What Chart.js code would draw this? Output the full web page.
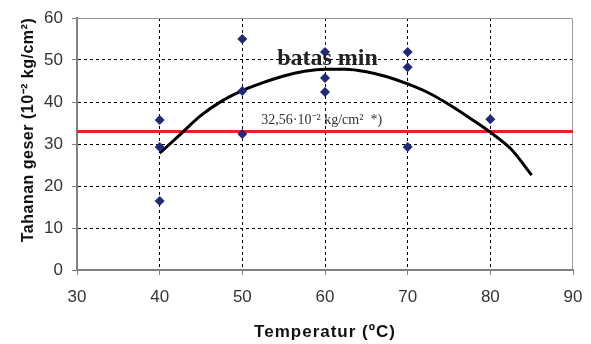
<!DOCTYPE html>
<html>
  <head>
    <meta charset="utf-8" />
    <title>Tahanan geser vs Temperatur</title>
    <style>
      html, body { margin: 0; padding: 0; background: #fff; }
      canvas { display: block; }
    </style>
  </head>
  <body>
    <canvas id="myChart" width="591" height="344"></canvas>

    <script src="https://cdn.jsdelivr.net/npm/chart.js@4/dist/chart.umd.min.js"></script>
    <script>
      // measured points
      var temps = [40, 40, 40, 50, 50, 50, 60, 60, 60, 70, 70, 70, 80];
      var shear = [35.7, 29.3, 16.4, 55.0, 42.6, 32.4, 51.9, 45.7, 42.4, 51.9, 48.3, 29.3, 35.9];

      // trend curve
      var curveX = [40, 42.5, 45, 47.5, 50, 52.5, 55, 57.5, 60, 62.5, 65, 67.5, 70, 72.5, 75, 77.5, 80, 82.5, 85];
      var curveY = [27.8, 32.3, 36.8, 40.2, 42.7, 44.6, 46.2, 47.3, 47.8, 47.8, 47.2, 46.0, 44.3, 42.2, 39.4, 36.2, 32.8, 28.8, 22.6];

      // minimum limit line
      var limitValue = 33;
      var limitX = [30, 90];

      var xTicks = [30, 40, 50, 60, 70, 80, 90];
      var yTicks = [0, 10, 20, 30, 40, 50, 60];

      var xTitle = "Temperatur (ºC)";
      var yTitle = "Tahanan geser (10⁻² kg/cm²)";

      var scatterData = [];
      for (let i = 0; i < temps.length; i++) {
        scatterData.push({ x: temps[i], y: shear[i] });
      }
      var curveData = [];
      for (let i = 0; i < curveX.length; i++) {
        curveData.push({ x: curveX[i], y: curveY[i] });
      }
      var limitData = [];
      for (let i = 0; i < limitX.length; i++) {
        limitData.push({ x: limitX[i], y: limitValue });
      }

      // frame, labels inside plot, axis titles (spaced out like the original)
      const extras = {
        id: "extras",
        beforeDatasetsDraw(chart) {
          const a = chart.chartArea;
          const c = chart.ctx;
          c.save();
          c.strokeStyle = "#9a9a9a";
          c.lineWidth = 1;
          c.beginPath();
          c.moveTo(a.left, a.top + 0.5);
          c.lineTo(a.right - 0.5, a.top + 0.5);
          c.lineTo(a.right - 0.5, a.bottom);
          c.stroke();
          c.restore();
        },
        afterDatasetsDraw(chart) {
          const x = chart.scales.x;
          const y = chart.scales.y;
          const c = chart.ctx;
          c.save();
          c.fillStyle = "#222";
          c.textBaseline = "middle";
          c.textAlign = "center";
          c.font = "bold 24px 'Liberation Serif', serif";
          c.fillText("batas min", x.getPixelForValue(60.3), y.getPixelForValue(50.2));
          c.font = "14px 'Liberation Serif', serif";
          c.fillStyle = "#333";
          c.textAlign = "left";
          c.fillText("32,56·10⁻² kg/cm²  *)", x.getPixelForValue(52.3), y.getPixelForValue(35.6));
          c.restore();
        },
        afterDraw(chart) {
          const a = chart.chartArea;
          const c = chart.ctx;
          c.save();
          c.fillStyle = "#111";
          c.textAlign = "center";
          c.textBaseline = "middle";
          c.letterSpacing = "1px";
          c.font = "bold 17px 'Liberation Sans', Arial";
          c.fillText(xTitle, (a.left + a.right) / 2, 332);
          c.letterSpacing = "0.5px";
          c.font = "bold 16px 'Liberation Sans', Arial";
          c.translate(29, 130);
          c.rotate(-Math.PI / 2);
          c.fillText(yTitle, 0, 0);
          c.restore();
        }
      };

      const ctx = document.getElementById("myChart").getContext("2d");
      const myChart = new Chart(ctx, {
        type: "scatter",
        data: {
          datasets: [
            {
              label: "data",
              data: scatterData,
              pointStyle: "rectRot",
              pointRadius: 5,
              pointHoverRadius: 5,
              backgroundColor: "#1f2a78",
              borderColor: "#1f2a78",
              borderWidth: 0,
              order: 0,
            },
            {
              label: "curve",
              type: "line",
              data: curveData,
              borderColor: "#000",
              borderWidth: 3,
              pointRadius: 0,
              tension: 0.4,
              cubicInterpolationMode: "monotone",
              fill: false,
              order: 1,
            },
            {
              label: "limit",
              type: "line",
              data: limitData,
              borderColor: "#f02020",
              borderWidth: 3,
              pointRadius: 0,
              fill: false,
              order: 2,
            },
          ],
        },
        options: {
          responsive: false,
          animation: false,
          devicePixelRatio: 1,
          layout: { padding: { top: 18, right: 18, left: 0, bottom: 0 } },
          plugins: { legend: { display: false }, tooltip: { enabled: false } },
          scales: {
            x: {
              type: "linear",
              min: 30,
              max: 90,
              afterBuildTicks: (s) => { s.ticks = xTicks.map((v) => ({ value: v })); },
              afterFit: (s) => { s.height = 74; s.paddingRight = 0; s.paddingLeft = 0; },
              ticks: {
                autoSkip: false,
                maxRotation: 0,
                color: "#333",
                font: { family: "'Liberation Sans', Arial", size: 17 },
                padding: 12,
              },
              grid: {
                color: (c) => (c.tick && (c.tick.value === 30 || c.tick.value === 90) ? "rgba(0,0,0,0)" : "#000"),
                lineWidth: 1,
                tickLength: 5,
                tickColor: "#808080",
                drawTicks: true,
              },
              border: { display: true, color: "#808080", width: 2, dash: [3, 3] },
            },
            y: {
              min: 0,
              max: 60,
              afterBuildTicks: (s) => { s.ticks = yTicks.map((v) => ({ value: v })); },
              afterFit: (s) => { s.width = 77; s.paddingTop = 0; s.paddingBottom = 0; },
              ticks: {
                autoSkip: false,
                color: "#333",
                font: { family: "'Liberation Sans', Arial", size: 17 },
                padding: 9,
              },
              grid: {
                color: (c) => (c.tick && (c.tick.value === 0 || c.tick.value === 60) ? "rgba(0,0,0,0)" : "#000"),
                lineWidth: 1,
                tickLength: 5,
                tickColor: "#808080",
                drawTicks: true,
              },
              border: { display: true, color: "#808080", width: 2, dash: [3, 3] },
            },
          },
        },
        plugins: [extras],
      });
    </script>
  </body>
</html>
